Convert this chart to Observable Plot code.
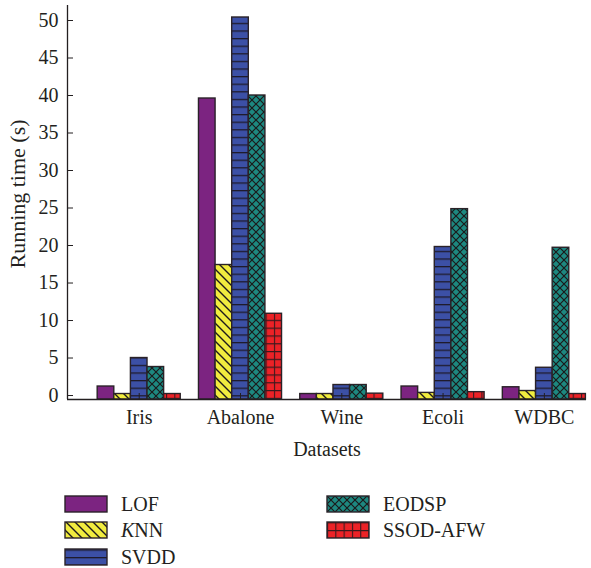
<!DOCTYPE html>
<html><head><meta charset="utf-8">
<script src="https://cdn.jsdelivr.net/npm/d3@7"></script>
<script src="https://cdn.jsdelivr.net/npm/@observablehq/plot@0.6"></script>
<style>
body{margin:0;background:#fff;font-family:"Liberation Serif",serif;}
#chart svg, #legend svg{display:block;}
</style>
</head><body>
<svg width="0" height="0" style="position:absolute">
<defs>
<pattern id="pat-lof" patternUnits="userSpaceOnUse" width="8" height="8">
  <rect width="8" height="8" fill="#7c2481"/>
</pattern>
<pattern id="pat-knn" patternUnits="userSpaceOnUse" width="9" height="9">
  <rect width="9" height="9" fill="#f1ec3f"/>
  <path d="M0,0L9,9M-4.5,4.5L4.5,13.5M4.5,-4.5L13.5,4.5" stroke="#1e1a1c" stroke-width="1.4"/>
</pattern>
<pattern id="pat-svdd" patternUnits="userSpaceOnUse" width="10" height="7.6">
  <rect width="10" height="7.6" fill="#3c50a6"/>
  <path d="M0,0.6L10,0.6" stroke="#1e1a2a" stroke-width="1.4"/>
</pattern>
<pattern id="pat-eodsp" patternUnits="userSpaceOnUse" width="8" height="8">
  <rect width="8" height="8" fill="#1d8880"/>
  <path d="M0,0L8,8M0,8L8,0" stroke="#1a1a1a" stroke-width="1.2"/>
</pattern>
<pattern id="pat-ssod" patternUnits="userSpaceOnUse" width="8.3" height="7.8">
  <rect width="8.3" height="7.8" fill="#ec2227"/>
  <path d="M0,0.5L8.3,0.5M0.5,0L0.5,7.8" stroke="#3a1a1e" stroke-width="1.2"/>
</pattern>
</defs>
</svg>
<div id="chart"></div>
<div id="legend"></div>
<script>
// ---- data ----
const datasets = ["Iris", "Abalone", "Wine", "Ecoli", "WDBC"];
const methods = ["LOF", "KNN", "SVDD", "EODSP", "SSOD-AFW"];
const lofValues   = [1.2, 39.6, 0.2, 1.2, 1.1];
const knnValues   = [0.2, 17.4, 0.2, 0.35, 0.6];
const svddValues  = [5.0, 50.4, 1.4, 19.8, 3.7];
const eodspValues = [3.8, 40.0, 1.4, 24.85, 19.7];
const ssodValues  = [0.2, 10.9, 0.25, 0.45, 0.2];
const yTicks = [0, 5, 10, 15, 20, 25, 30, 35, 40, 45, 50];
const patterns = ["url(#pat-lof)", "url(#pat-knn)", "url(#pat-svdd)", "url(#pat-eodsp)", "url(#pat-ssod)"];
const xLabel = "Datasets";
const yLabel = "Running time (s)";

const series = [lofValues, knnValues, svddValues, eodspValues, ssodValues];
const rows = datasets.flatMap((d, i) => methods.map((m, j) => ({
  dataset: d, gi: i, mi: j, method: m, value: series[j][i], pattern: patterns[j]
})));

const yMin = -0.53, yMax = 52;
const xMin = -0.708, xMax = 4.416;
const half = 0.41, bw = 0.164;
const ink = "#231f20";
const font = "Liberation Serif, serif";

const plot = Plot.plot({
  width: 591,
  height: 475,
  marginLeft: 67,
  marginRight: 5,
  marginTop: 5,
  marginBottom: 76,
  style: {fontFamily: font, fontSize: "20px", color: ink, background: "#fff"},
  x: {type: "linear", domain: [xMin, xMax]},
  y: {domain: [yMin, yMax]},
  color: {type: "identity"},
  marks: [
    Plot.rectY(rows, {
      x1: r => r.gi - half + r.mi * bw,
      x2: r => r.gi - half + (r.mi + 1) * bw,
      y1: yMin,
      y2: "value",
      fill: "pattern",
      stroke: "#2a2228",
      strokeWidth: 1.4
    }),
    Plot.ruleX([xMin], {stroke: ink, strokeWidth: 1.3}),
    Plot.ruleY([yMin], {stroke: ink, strokeWidth: 1.3}),
    Plot.axisY({ticks: yTicks, tickSize: 6, dx: 6, tickFormat: () => "", label: null, stroke: ink}),
    Plot.axisY({ticks: yTicks, tickSize: 0, tickPadding: 9, fontSize: 20, fill: ink, label: null}),
    Plot.axisX({ticks: [0, 1, 2, 3, 4], tickSize: 6, dy: -6, tickFormat: () => "", label: null, stroke: ink}),
    Plot.axisX({ticks: [0, 1, 2, 3, 4], tickSize: 0, tickPadding: 10, fontSize: 20, fill: ink,
      tickFormat: i => datasets[i], label: null}),
    Plot.text([xLabel], {frameAnchor: "bottom", dy: 50, lineAnchor: "middle", fontSize: 20, fill: ink})
  ]
});
document.getElementById("chart").append(plot);

// y-axis title (rotated), placed in the left margin
d3.select(plot).append("text")
  .attr("transform", "translate(17,194) rotate(-90)")
  .attr("text-anchor", "middle")
  .attr("dominant-baseline", "central")
  .attr("font-family", font)
  .attr("font-size", 22)
  .attr("fill", ink)
  .text(yLabel);

// ---- legend ----
const legendItems = methods.map((m, j) => ({name: m, pattern: patterns[j]}));
const pos = [
  {x: 65, y: 29}, {x: 65, y: 55}, {x: 65, y: 82},
  {x: 327, y: 29}, {x: 327, y: 55}
];
const lsvg = d3.select("#legend").append("svg").attr("width", 591).attr("height", 93)
  .style("font-family", font).style("font-size", "20px");
const g = lsvg.selectAll("g").data(legendItems).join("g")
  .attr("transform", (d, i) => `translate(${pos[i].x},${pos[i].y})`);
g.append("rect").attr("x", 0).attr("y", -8).attr("width", 42).attr("height", 16)
  .attr("fill", d => d.pattern).attr("stroke", "#2a2228").attr("stroke-width", 1.4);
g.append("text").attr("x", 56).attr("y", 7).attr("fill", ink)
  .each(function(d) {
    const t = d3.select(this);
    if (d.name === "KNN") {
      t.append("tspan").attr("font-style", "italic").text("K");
      t.append("tspan").text("NN");
    } else t.text(d.name);
  });
</script>
</body></html>
